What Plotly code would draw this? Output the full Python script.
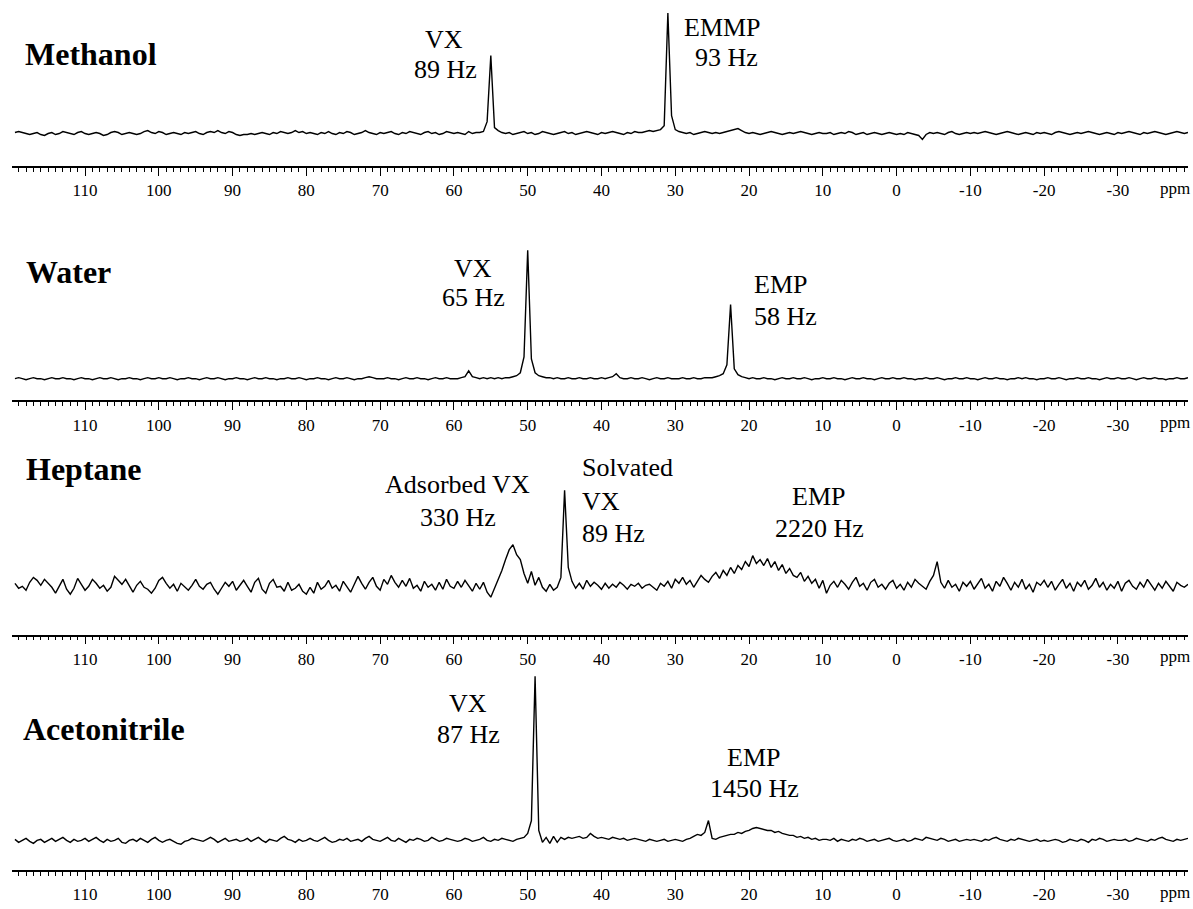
import numpy as np
import plotly.graph_objects as go

# ---------------- data ----------------
# chemical-shift grid (ppm), 0.5 ppm spacing, left to right on the reversed axis
PPM = np.linspace(119.5, -39.5, 319)

# intensities (arbitrary units, baseline ~ 0), rows of 10 ppm from 119.5 ppm downward
METHANOL_ROWS = [
    [1, 2, 1, 0, -1, 0, 1, -1, -2, 0, 1, -1, 0, 2, 1, 0, -1, 1, 2, 0],
    [-1, 0, 1, 0, -2, -1, 1, 2, 1, -1, 0, 1, 0, -1, 0, 2, 3, 1, 0, 2],
    [1, -1, 0, 1, 0, -1, 1, 0, 1, 2, 0, -1, 1, 2, 1, 3, 1, 0, 2, 1],
    [-1, -2, -1, -1, 0, -1, 0, 1, 0, -1, 1, 0, 2, 1, 0, 1, 3, 1, 2, 0],
    [1, 0, -1, 1, 0, 2, 0, -1, 1, 0, 2, 1, -1, 0, 1, 3, 1, 0, -1, 1],
    [0, 1, 2, 0, -1, 1, 0, 2, 1, 0, -1, 1, 2, 0, 1, -1, 0, 2, 1, 0],
    [1, 0, -1, 2, 0, 1, 1, 2, 12, 79, 6, 3, 1, 0, 1, -1, 0, 1, 2, 0],
    [1, -1, 0, 2, 1, 0, -1, 0, 1, 2, 0, 1, -1, 0, 1, 2, 1, 0, -1, 1],
    [0, 1, 2, 1, 0, -1, 1, 0, 2, 1, 1, 2, 3, 2, 3, 4, 8, 122, 18, 4],
    [2, 1, 0, 1, -1, 0, 1, 2, 1, 0, 1, 0, 1, 2, 3, 4, 5, 3, 1, 0],
    [1, 0, -1, 0, 1, 2, 1, 0, -1, 0, 1, 0, 1, 2, 1, 0, -1, 0, 1, 0],
    [0, 1, -1, 0, 1, 0, 2, 1, -1, 0, 1, -1, 0, 1, 0, -1, 0, 1, 0, -1],
    [0, -1, 1, 0, -1, -2, -6, -1, 1, 0, 1, 0, -1, 1, 2, 0, -1, 0, 1, 0],
    [1, 0, 1, 2, 1, 0, -1, 0, 1, 2, 1, 0, -1, 0, 1, 0, -1, 1, 0, 1],
    [0, -1, 1, 2, 1, 0, -1, 0, 1, 0, 1, 2, 1, 0, -1, 0, 1, 0, -1, 1],
    [0, 1, 2, 1, 0, -1, 1, 0, 1, 2, 1, 0, -1, 0, 1, 2, 1, 0, 1],
]

WATER_ROWS = [
    [0, 1, 0, -1, 0, 1, 0, 0, -1, 0, 1, 0, 0, 1, 0, 0, -1, 0, 1, 0],
    [0, -1, 0, 1, 0, 0, 1, 0, -1, 0, 0, 1, 0, 0, -1, 0, 1, 0, 0, 1],
    [0, 0, 1, 0, -1, 0, 0, 1, 0, 0, -1, 0, 1, 0, 0, 1, 0, -1, 0, 0],
    [1, 0, 0, -1, 0, 1, 0, 0, 1, 0, 0, -1, 0, 0, 1, 0, 0, 1, 0, -1],
    [0, 0, 1, 0, 0, -1, 0, 1, 0, 0, 1, 0, -1, 0, 0, 1, 2, 1, 0, 0],
    [0, 1, 0, 0, -1, 0, 1, 0, 0, 1, 0, 0, -1, 0, 1, 0, 0, 1, 0, 0],
    [0, 1, 2, 8, 2, 1, 0, 1, 0, 1, 0, 1, 0, 1, 1, 2, 3, 6, 22, 130],
    [20, 6, 3, 2, 1, 1, 0, 1, 0, 0, 1, 0, 0, 1, 0, 0, 1, 0, 0, 1],
    [0, 1, 2, 5, 1, 0, 0, 1, 0, 0, 1, 0, -1, 0, 1, 0, 0, 1, 0, 0],
    [0, 1, 0, 0, 1, 0, 0, 1, 1, 1, 2, 3, 5, 14, 75, 10, 4, 2, 1, 0],
    [1, 0, 0, 1, 0, 0, -1, 0, 1, 0, 0, 1, 0, 0, 1, 0, -1, 0, 0, 1],
    [0, 0, 1, 0, 0, -1, 0, 1, 0, 0, 1, 0, 0, -1, 0, 1, 0, 0, 1, 0],
    [0, 1, 0, 0, -1, 0, 0, 1, 0, 0, 1, 0, -1, 0, 0, 1, 0, 0, 1, 0],
    [0, -1, 0, 1, 0, 0, 1, 0, 0, -1, 0, 0, 1, 0, 1, 0, 0, -1, 0, 0],
    [1, 0, 0, 1, 0, -1, 0, 0, 1, 0, 0, 1, 0, 0, -1, 0, 1, 0, 0, 1],
    [0, 0, 1, 0, -1, 0, 1, 0, 0, 1, 0, 0, -1, 0, 0, 1, 0, 0, 1],
]

HEPTANE_ROWS = [
    [2, -3, -1, -5, 3, 8, 5, 0, 6, 2, -2, -8, -1, 6, -4, -9, -3, 7, 1, -5],
    [-1, 6, 2, -3, 0, -6, -2, 9, 5, 1, 6, -1, -7, 0, 4, -2, -4, -8, -3, 5],
    [8, 2, -3, 1, -6, 2, -2, -5, 0, 6, -1, -4, 1, 3, -4, -9, -3, 3, -1, 4],
    [-5, 0, 5, -1, -7, 3, 7, -4, -8, 2, 6, -2, -1, -6, 3, -5, -3, 1, -6, -9],
    [-2, -8, 3, -4, -1, 5, -3, 0, -6, 4, -2, -7, 1, 9, 2, -4, 3, 8, -1, -5],
    [6, 1, 10, 3, -2, 5, -1, 7, -3, 0, -6, 4, -2, 1, -5, 3, -4, 6, -1, -3],
    [4, -2, 5, -1, -6, 2, -4, 3, -7, -12, -3, 5, 15, 26, 36, 41, 31, 26, 12, 2],
    [14, 0, 8, -2, -6, 1, -5, -2, 8, 96, 18, 4, -3, 2, -4, 5, -1, 3, 0, -4],
    [2, -3, 1, -2, 3, 0, -4, 1, -1, 2, -3, 0, 1, -2, -5, 2, -1, 4, -3, 6],
    [2, 8, 1, 5, -2, 4, 10, 6, 3, 9, 13, 7, 15, 10, 18, 12, 20, 16, 24, 19],
    [30, 22, 26, 20, 27, 18, 24, 15, 21, 12, 17, 10, 8, 13, 4, 9, 2, 6, -3, 5],
    [-8, 0, 4, -2, 5, 1, -4, 3, 8, -1, 2, -5, 3, 6, -2, 1, -4, 2, 5, -3],
    [1, -5, 3, -2, 6, 2, -1, -4, 4, 10, 24, 3, -3, 5, -2, 1, -6, 3, -1, 4],
    [-4, 2, 7, -3, 1, -6, 4, -1, 8, 2, -5, 3, -2, 6, -4, 1, -7, 3, 0, 5],
    [-2, 4, -5, 1, 6, -3, 2, -6, 3, -1, 5, -4, 0, 7, -2, 3, -5, 1, -3, 4],
    [-6, 2, 5, -1, -4, 3, -2, 6, 1, -5, 2, -3, 4, -1, -6, 3, 0, -2, 1],
]

ACETONITRILE_ROWS = [
    [1, -2, 0, 2, -1, -3, 0, 1, -2, 0, 2, -1, 1, 3, 0, -2, 1, -1, 0, 2],
    [-1, 1, 3, 0, -2, 1, -1, 0, 2, -2, -3, 0, 1, -1, 2, 0, -2, 1, 3, 0],
    [-2, 0, 1, -1, -3, -4, -1, 0, 2, 1, 0, -1, 1, 3, 1, -2, 0, 2, -1, 0],
    [1, -1, 0, 2, -1, 1, 3, 0, -2, 1, 0, -1, 2, 4, 1, 0, -2, 1, -1, 0],
    [2, 0, -1, 1, 3, 0, -2, -1, 1, 0, 2, -1, 0, 1, -1, 2, 4, 1, 0, -1],
    [1, 3, 0, -1, 2, 0, -2, 1, 0, 2, 1, -1, 0, 3, 1, -1, 0, 2, 1, 0],
    [-1, 0, 2, 1, -1, 0, 1, 3, 0, -1, 1, 0, 2, 1, 0, -1, 1, 2, 3, 7],
    [20, 166, 10, -2, 3, -3, 4, -2, 3, 1, 3, 2, 3, 4, 2, 3, 7, 4, 2, 3],
    [2, 1, 3, 2, 1, 2, 0, 1, 2, 1, 0, -1, 1, 0, -1, 0, 1, -1, 0, 1],
    [0, -1, 1, 2, 4, 6, 5, 8, 20, 2, 1, 3, 4, 5, 6, 6, 8, 7, 9, 10],
    [12, 13, 12, 11, 10, 10, 8, 9, 7, 6, 5, 5, 3, 4, 2, 3, 1, 2, 0, 1],
    [1, 0, 2, -1, 1, 0, -1, 1, 0, 2, 1, -1, 0, 1, -1, 0, 1, 2, 0, -1],
    [0, 1, -1, 0, 2, 1, 0, 3, 2, 1, 0, 2, 1, -1, 0, 1, -1, 0, 1, 0],
    [1, 0, -1, 1, 0, 2, 3, 1, 0, -1, 1, 0, 2, 1, 0, -1, 0, 1, -1, 0],
    [-1, 0, 1, 0, -2, -1, 1, 0, -1, 1, 0, -2, 1, 0, 2, 1, -1, 0, 1, 0],
    [0, 1, -1, 0, 2, 1, 0, -1, 1, 0, 2, 3, 1, 0, -1, 1, 0, 1, 2],
]

METHANOL = sum(METHANOL_ROWS, [])
WATER = sum(WATER_ROWS, [])
HEPTANE = sum(HEPTANE_ROWS, [])
ACETONITRILE = sum(ACETONITRILE_ROWS, [])

SOLVENTS = ["Methanol", "Water", "Heptane", "Acetonitrile"]
SPECTRA = [METHANOL, WATER, HEPTANE, ACETONITRILE]

TICK_VALS = [110, 100, 90, 80, 70, 60, 50, 40, 30, 20, 10, 0, -10, -20, -30]
TICK_TEXT = [str(v) for v in TICK_VALS]

# peak labels: (panel index, text, ppm, intensity, x-anchor)
PEAK_LABELS = [
    (0, "VX", 61.35, 95, "center"), (0, "89 Hz", 61.2, 64.5, "center"),
    (0, "EMMP", 23.66, 107, "center"), (0, "93 Hz", 23.12, 77, "center"),
    (1, "VX", 57.41, 111, "center"), (1, "65 Hz", 57.41, 82, "center"),
    (1, "EMP", 15.8, 95, "center"), (1, "58 Hz", 15.0, 63, "center"),
    (2, "Adsorbed VX", 59.45, 102, "center"), (2, "330 Hz", 59.45, 69, "center"),
    (2, "Solvated", 42.91, 119, "left"), (2, "VX", 42.91, 85, "left"),
    (2, "89 Hz", 42.91, 52, "left"),
    (2, "EMP", 10.65, 90, "center"), (2, "2220 Hz", 10.5, 57, "center"),
    (3, "VX", 58.09, 138, "center"), (3, "87 Hz", 58.09, 107, "center"),
    (3, "EMP", 19.33, 84, "center"), (3, "1450 Hz", 19.2, 52, "center"),
]
# solvent label anchor (ppm, intensity)
SOLVENT_POS = [(118.41, 80), (118.27, 108), (118.27, 118), (118.68, 113)]

for s in SPECTRA:
    assert len(s) == len(PPM), len(s)

# ---------------- layout ----------------
W, H = 1193, 909
ML, MR, MT, MB = 12, 5, 5, 29
PLOT_H = H - MT - MB
AXIS_Y = [168, 405, 642, 880]       # pixel row of each axis line
BASE_OFF = [33, 22, 50, 30]         # baseline height above the axis line (px)
PANEL_H = [163, 170, 185, 205]      # panel heights (px)
XRANGE = [119.9, -39.5]
SERIF = "Liberation Serif, Times New Roman, serif"

fig = go.Figure()
layout = dict(
    width=W, height=H,
    margin=dict(l=ML, r=MR, t=MT, b=MB),
    paper_bgcolor="white", plot_bgcolor="white",
    showlegend=False,
    font=dict(family=SERIF, color="black"),
)
annotations = []

for i, (name, spec) in enumerate(zip(SOLVENTS, SPECTRA)):
    n = "" if i == 0 else str(i + 1)
    xa, ya = "x" + n, "y" + n
    fig.add_trace(go.Scatter(
        x=PPM, y=spec, mode="lines", xaxis=xa, yaxis=ya,
        line=dict(color="black", width=1.4), hoverinfo="skip",
    ))
    bottom = (H - MB - AXIS_Y[i]) / PLOT_H
    top = bottom + PANEL_H[i] / PLOT_H
    layout["xaxis" + n] = dict(
        range=XRANGE, domain=[0, 1], anchor=ya,
        showline=True, linecolor="black", linewidth=1.5,
        ticks="outside", ticklen=8, tickwidth=1.3, tickcolor="black",
        tickmode="array", tickvals=TICK_VALS, ticktext=TICK_TEXT,
        minor=dict(ticks="outside", ticklen=4, tickwidth=1, tickcolor="black",
                   tickmode="linear", tick0=0, dtick=1),
        showgrid=False, zeroline=False, fixedrange=True,
        tickfont=dict(family=SERIF, size=17, color="black"),
    )
    layout["yaxis" + n] = dict(
        domain=[bottom, min(top, 1.0)], anchor=xa,
        range=[-BASE_OFF[i], PANEL_H[i] - BASE_OFF[i]],
        visible=False, fixedrange=True,
    )
    sx, sy = SOLVENT_POS[i]
    annotations.append(dict(
        text="<b>" + name + "</b>", x=sx, y=sy, xref=xa, yref=ya,
        xanchor="left", yanchor="middle", showarrow=False,
        font=dict(family=SERIF, size=32, color="black"),
    ))
    annotations.append(dict(
        text="ppm", x=-37.8, y=0, xref=xa, yref=ya + " domain",
        xanchor="center", yanchor="middle", yshift=-22, showarrow=False,
        font=dict(family=SERIF, size=17, color="black"),
    ))

for p, txt, px, py, anc in PEAK_LABELS:
    n = "" if p == 0 else str(p + 1)
    annotations.append(dict(
        text=txt, x=px, y=py, xref="x" + n, yref="y" + n,
        xanchor=anc, yanchor="middle", showarrow=False,
        font=dict(family=SERIF, size=26, color="black"),
    ))

layout["annotations"] = annotations
fig.update_layout(**layout)
fig.write_html(
    "out.html",
    config={"displayModeBar": False},
    post_script="document.body.style.margin='0px';",
)
